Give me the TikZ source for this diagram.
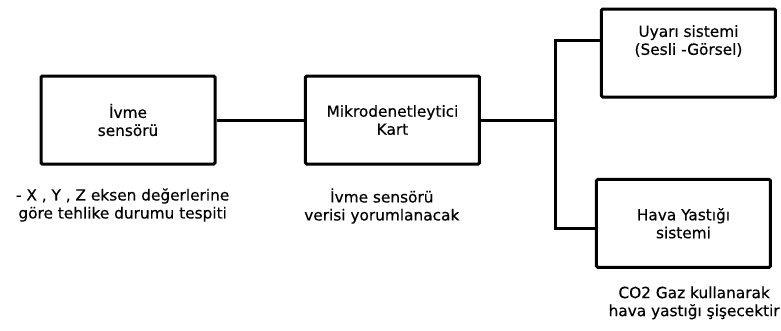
\documentclass[tikz,border=0pt]{standalone}
\usepackage{fontspec}
\setmainfont[FakeBold=0.4]{DejaVu Sans}
\usetikzlibrary{positioning}
\begin{document}
\begin{tikzpicture}[node distance=65.6pt,
  box node/.style={rectangle,draw,line width=2.25pt,rounded corners=1pt,minimum width=130.5pt,minimum height=66pt,align=center,font=\fontsize{11.5}{13.5}\selectfont},
  note node/.style={align=center,inner sep=0pt,font=\fontsize{11.5}{13.5}\selectfont}]
  \useasboundingbox (0,0) rectangle (585.75pt,-247.5pt);
  \node[box node] (1) at (96pt,-90pt) {İvme\\sensörü};
  \node[box node] (2) [right=of 1] {Mikrodenetleytici\\Kart};
  \node[box node] (3) [right=89.25pt of 2, yshift=50.25pt] {};
  \node[box node] (4) [right=85.5pt of 2, yshift=-77.5pt] {Hava Yastığı\\sistemi};
  \node[note node] (3t) at ([yshift=9pt]3.center) {Uyarı sistemi\\(Sesli -Görsel)};

  \node[note node] (a) [below=17pt of 1, xshift=-4pt] {- X , Y , Z eksen değerlerine\\göre tehlike durumu tespiti};
  \node[note node] (b) [below=17pt of 2, xshift=-8pt] {İvme sensörü\\verisi yorumlanacak};
  \node[note node] (c) [below=13pt of 4, xshift=8pt] {CO2 Gaz kullanarak\\hava yastığı şişecektir};

  \coordinate (j) at ([xshift=56.25pt]2.east);
  \draw[line width=2.25pt] (1) -- (2);
  \draw[line width=2.25pt] (2) -- (j) |- ([yshift=9.75pt]3.west);
  \draw[line width=2.25pt] (j) |- ([yshift=-4pt]4.west);
\end{tikzpicture}
\end{document}
